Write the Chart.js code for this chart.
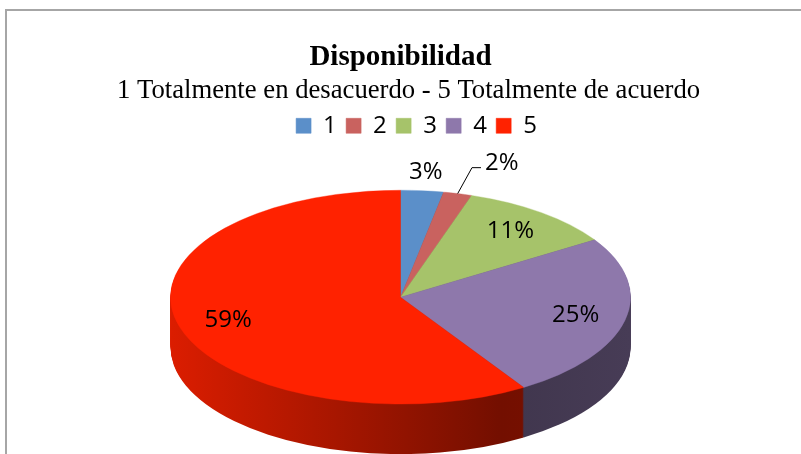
<!DOCTYPE html>
<html>
<head>
<meta charset="utf-8">
<script src="https://cdn.jsdelivr.net/npm/chart.js@4.4.0/dist/chart.umd.min.js"></script>
<style>
    html, body { margin: 0; padding: 0; background: #fff; }
    #wrap { position: relative; width: 801px; height: 454px; overflow: hidden; }
    #frame { position: absolute; left: 5px; top: 9px; width: 900px; height: 600px;
             border-left: 2px solid #a6a6a6; border-top: 2px solid #a6a6a6; }
    #chart { position: absolute; left: 0; top: 0; }
</style>
</head>
<body>
<div id="wrap">
    <div id="frame"></div>
    <canvas id="chart" width="801" height="454"></canvas>
</div>
<script>
const categories = ['1', '2', '3', '4', '5'];
const percentages = [3, 2, 11, 25, 59];
const sliceColors = ['#5b8fc9', '#c9625f', '#a6c36a', '#8e78ab', '#ff2200'];

const chartTitle = 'Disponibilidad';
const chartSubtitle = '1 Totalmente en desacuerdo - 5 Totalmente de acuerdo';

const tilt = 0.465;   // vertical squash of the pie
const depth = 50;     // thickness of the side wall in px
const serif = "'Liberation Serif', 'Times New Roman', serif";
const sans = "'Open Sans', 'Noto Sans', sans-serif";

function shade(hex, f) {
    const n = parseInt(hex.slice(1), 16);
    const r = Math.round(((n >> 16) & 255) * f);
    const g = Math.round(((n >> 8) & 255) * f);
    const b = Math.round((n & 255) * f);
    return `rgb(${r},${g},${b})`;
}

// squash the pie and draw the side wall under it
const pie3d = {
    id: 'pie3d',
    beforeDatasetsDraw(chart) {
        const ctx = chart.ctx;
        const arcs = chart.getDatasetMeta(0).data;
        const cx = arcs[0].x, cy = arcs[0].y, r = arcs[0].outerRadius;
        ctx.save();
        ctx.translate(cx, cy);
        ctx.scale(1, tilt);
        ctx.translate(-cx, -cy);

        const grads = chart.data.datasets[0].backgroundColor.map(c => {
            const g = ctx.createLinearGradient(cx - r, 0, cx + r, 0);
            g.addColorStop(0, shade(c, 0.86));
            g.addColorStop(0.72, shade(c, 0.45));
            g.addColorStop(1, shade(c, 0.5));
            return g;
        });

        for (let d = depth; d > 0; d--) {
            arcs.forEach((a, i) => {
                const y = a.y + d / tilt;
                ctx.beginPath();
                ctx.moveTo(a.x, y);
                ctx.arc(a.x, y, a.outerRadius, a.startAngle, a.endAngle);
                ctx.closePath();
                ctx.fillStyle = grads[i];
                ctx.fill();
            });
        }
    },
    afterDatasetsDraw(chart) {
        chart.ctx.restore();
    }
};

// subtitle and legend sit a little right of centre in the original
const nudge = {
    id: 'nudge',
    afterLayout(chart) {
        chart.boxes.forEach(b => {
            let dx = 0;
            if (b === chart.legend) dx = 16;
            else if (b.options && b.options.text === chartSubtitle) dx = 8;
            b.left += dx;
            b.right += dx;
        });
    }
};

// percentage labels, small slices outside, the smallest with a leader line
const pieLabels = {
    id: 'pieLabels',
    afterDraw(chart) {
        const ctx = chart.ctx;
        const arcs = chart.getDatasetMeta(0).data;
        ctx.save();
        ctx.font = `24px ${sans}`;
        ctx.fillStyle = '#000';
        ctx.strokeStyle = '#000';
        ctx.lineWidth = 1;
        ctx.textBaseline = 'middle';
        arcs.forEach((a, i) => {
            const v = percentages[i];
            const mid = (a.startAngle + a.endAngle) / 2;
            const r = a.outerRadius;
            const px = f => a.x + Math.cos(mid) * r * f;
            const py = f => a.y + Math.sin(mid) * r * f * tilt;
            const text = v + '%';
            if (v <= 2) {
                const ex = px(1.25), ey = py(1.25);
                ctx.beginPath();
                ctx.moveTo(px(1.0), py(1.0));
                ctx.lineTo(ex, ey);
                ctx.lineTo(ex + 9, ey);
                ctx.stroke();
                ctx.textAlign = 'left';
                ctx.fillText(text, ex + 13, ey - 5);
            } else {
                const f = v < 5 ? 1.17 : 0.78;
                ctx.textAlign = 'center';
                ctx.fillText(text, px(f), py(f));
            }
        });
        ctx.restore();
    }
};

new Chart(document.getElementById('chart'), {
    type: 'pie',
    data: {
        labels: categories,
        datasets: [{
            data: percentages,
            backgroundColor: sliceColors,
            borderColor: sliceColors,
            borderWidth: 0.5,
            clip: false
        }]
    },
    options: {
        responsive: false,
        animation: false,
        events: [],
        radius: 230,
        layout: { padding: { top: 40, bottom: 7.5 } },
        plugins: {
            title: {
                display: true,
                text: chartTitle,
                color: '#000',
                font: { family: serif, size: 29, weight: 'bold' },
                padding: { top: 0, bottom: 3 }
            },
            subtitle: {
                display: true,
                text: chartSubtitle,
                color: '#000',
                font: { family: serif, size: 26.7, lineHeight: 1.0 },
                padding: { top: 0, bottom: 0 }
            },
            legend: {
                position: 'top',
                labels: {
                    boxWidth: 15,
                    boxHeight: 15,
                    padding: 9.3,
                    color: '#000',
                    font: { family: sans, size: 24 }
                }
            },
            tooltip: { enabled: false }
        }
    },
    plugins: [pie3d, nudge, pieLabels]
});
</script>
</body>
</html>
